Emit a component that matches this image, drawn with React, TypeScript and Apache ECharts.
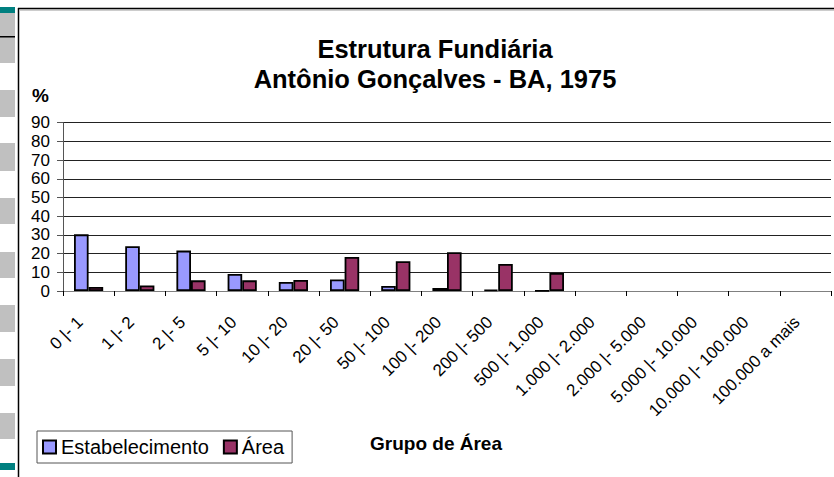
import React, { useEffect, useRef } from "react";
import * as echarts from "echarts";

const categories = [
  "0 |- 1", "1 |- 2", "2 |- 5", "5 |- 10", "10 |- 20", "20 |- 50", "50 |- 100",
  "100 |- 200", "200 |- 500", "500 |- 1.000", "1.000 |- 2.000", "2.000 |- 5.000",
  "5.000 |- 10.000", "10.000 |- 100.000", "100.000 a mais",
];
const estabelecimento = [30.3, 23.9, 21.6, 9.1, 4.8, 6.2, 2.7, 1.6, 0.7, 0.2, 0, 0, 0, 0, 0];
const area = [2.1, 3.0, 5.7, 5.7, 5.9, 18.2, 15.9, 20.7, 14.4, 9.6, 0, 0, 0, 0, 0];
const seriesNames = ["Estabelecimento", "Área"];
const titleLines = ["Estrutura Fundiária", "Antônio Gonçalves - BA, 1975"];
const yAxisName = "%";
const xAxisName = "Grupo de Área";

const FONT = "Arial, 'Liberation Sans', sans-serif";
const grayBlocks = [
  [13, 50], [90, 27], [143, 28], [198, 26], [252, 26], [305, 27], [359, 27], [413, 26],
];

const toItems = (vals: number[]) =>
  vals.map((v) => (v === 0 ? { value: v, itemStyle: { borderWidth: 0 } } : v));

export default function App() {
  const ref = useRef<HTMLDivElement>(null);
  useEffect(() => {
    if (!ref.current) return;
    const chart = echarts.init(ref.current, null, { renderer: "svg" });
    const graphics: any[] = [];
    grayBlocks.forEach(([y, h]) => {
      graphics.push({ type: "rect", shape: { x: 0, y, width: 15, height: h }, style: { fill: "#C0C0C0" } });
    });
    graphics.push({ type: "rect", shape: { x: 0, y: 7, width: 15, height: 6 }, style: { fill: "#008080" } });
    graphics.push({ type: "rect", shape: { x: 0, y: 463, width: 15, height: 7 }, style: { fill: "#008080" } });
    graphics.push({ type: "rect", shape: { x: 0, y: 36, width: 15, height: 1.5 }, style: { fill: "#000" } });
    graphics.push({ type: "line", shape: { x1: 18.5, y1: 8, x2: 18.5, y2: 477 }, style: { stroke: "#000", lineWidth: 1.5 } });
    graphics.push({ type: "line", shape: { x1: 18, y1: 8.5, x2: 834, y2: 8.5 }, style: { stroke: "#000", lineWidth: 1.5 } });
    graphics.push({ type: "line", shape: { x1: 20, y1: 10, x2: 834, y2: 10 }, style: { stroke: "#999", lineWidth: 1 } });
    graphics.push({
      type: "text", left: 32, top: 86,
      style: { text: yAxisName, font: `bold 19px ${FONT}`, fill: "#000" },
    });
    graphics.push({
      type: "text", x: 436, y: 443,
      style: { text: xAxisName, font: `bold 19px ${FONT}`, fill: "#000", align: "center", verticalAlign: "middle" },
    });

    chart.setOption({
      animation: false,
      backgroundColor: "#fff",
      title: {
        text: titleLines.join("\n"),
        left: 430,
        top: 29,
        textAlign: "center",
        textStyle: { fontFamily: FONT, fontSize: 25.5, fontWeight: "bold", color: "#000", lineHeight: 30 },
      },
      legend: {
        left: 37,
        top: 431,
        itemWidth: 13,
        itemHeight: 13,
        itemGap: 14,
        padding: [6, 8, 6, 5],
        borderColor: "#555",
        borderWidth: 1,
        borderRadius: 0,
        icon: "rect",
        textStyle: { fontFamily: FONT, fontSize: 20, color: "#000" },
        data: seriesNames,
      },
      grid: { left: 63, right: 3, top: 122.7, bottom: 186 },
      xAxis: {
        type: "category",
        data: categories,
        axisLine: { lineStyle: { color: "#808080", width: 1 } },
        axisTick: { show: true, length: 5, lineStyle: { color: "#000" } },
        axisLabel: {
          rotate: 45, fontFamily: FONT, fontSize: 17, color: "#000", margin: 20, interval: 0,
          padding: [0, 12, 0, 0],
        },
      },
      yAxis: {
        type: "value",
        min: 0,
        max: 90,
        interval: 10,
        axisLine: { show: true, lineStyle: { color: "#555", width: 1 } },
        axisTick: { show: true, length: 6, lineStyle: { color: "#555" } },
        axisLabel: {
          fontFamily: FONT, fontSize: 17, lineHeight: 17, color: "#000", margin: 13,
          showMinLabel: true, showMaxLabel: true, hideOverlap: false,
        },
        splitLine: { show: true, lineStyle: { color: "#222", width: 1 } },
      },
      series: [
        {
          name: seriesNames[0],
          type: "bar",
          data: toItems(estabelecimento),
          barGap: "0%",
          barCategoryGap: "43%",
          itemStyle: { color: "#9999FF", borderColor: "#000", borderWidth: 1.8 },
        },
        {
          name: seriesNames[1],
          type: "bar",
          data: toItems(area),
          itemStyle: { color: "#993366", borderColor: "#000", borderWidth: 1.8 },
        },
      ],
      graphic: graphics,
    });
    return () => chart.dispose();
  }, []);
  return <div ref={ref} style={{ position: "fixed", left: 0, top: 0, width: 834, height: 477 }} />;
}
